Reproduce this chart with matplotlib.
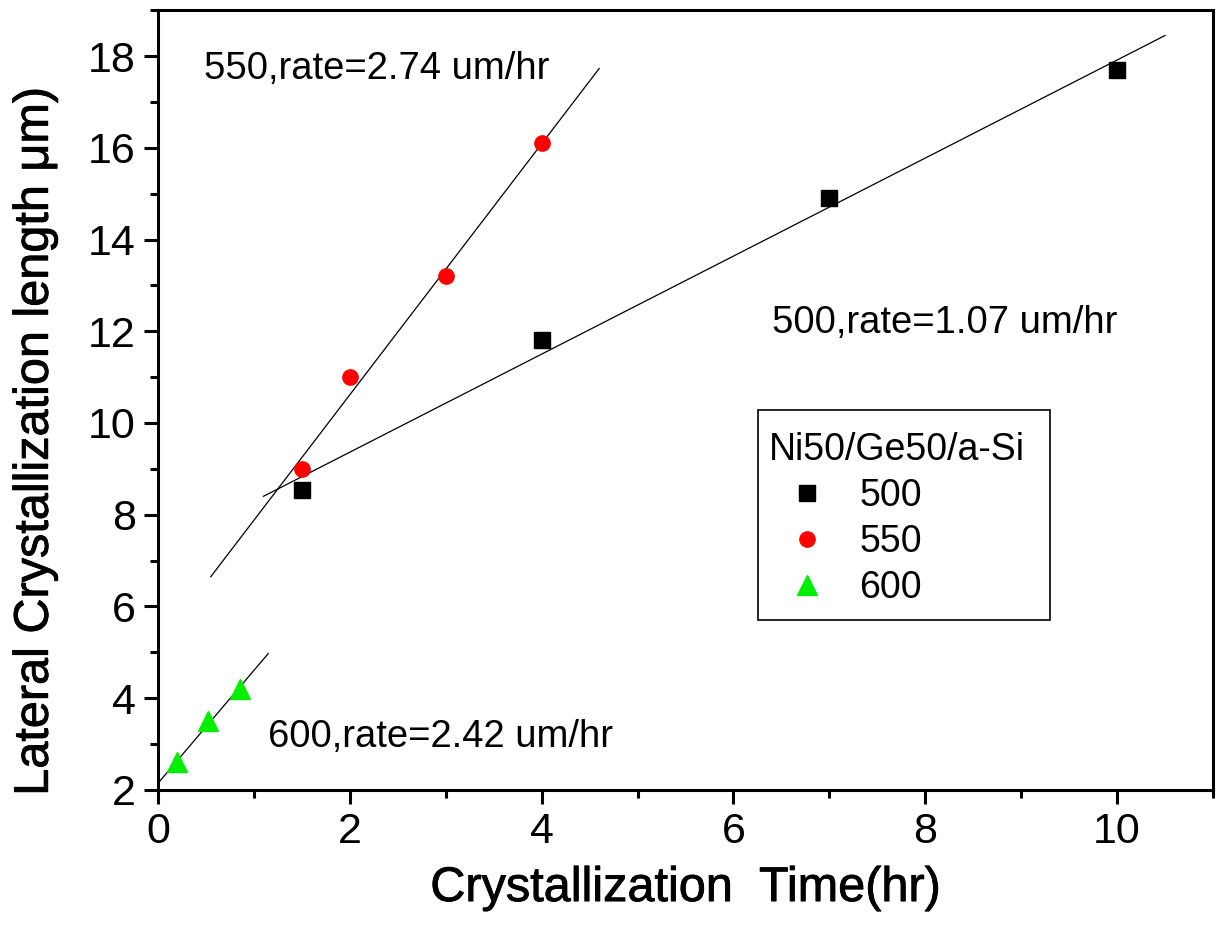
import numpy as np
import matplotlib.pyplot as plt
import matplotlib.patheffects as pe
from matplotlib.patches import Rectangle
from matplotlib.ticker import MultipleLocator

plt.rcParams['font.family'] = ['Liberation Sans', 'DejaVu Sans']

# measured points (time in hr, length in um)
t500 = [1.5, 4.0, 7.0, 10.0]
l500 = [8.55, 11.8, 14.9, 17.7]
t550 = [1.5, 2.0, 3.0, 4.0]
l550 = [9.0, 11.0, 13.2, 16.1]
t600 = [0.2, 0.52, 0.85]
l600 = [2.6, 3.5, 4.2]

# x-range over which each linear fit is drawn
fit500 = [1.1, 10.5]
fit550 = [0.55, 4.6]
fit600 = [0.0, 1.15]

labels = ['500', '550', '600']
notes = ['500,rate=1.07 um/hr', '550,rate=2.74 um/hr', '600,rate=2.42 um/hr']

fig = plt.figure(figsize=(12.22, 9.25), dpi=100)
ax = fig.add_axes([0.1293, 0.146, 0.8633, 0.843])

ax.plot(t500, l500, 's', color='black', ms=11, label=labels[0], zorder=3)
ax.plot(t550, l550, 'o', color='red', ms=11, label=labels[1], zorder=3)
ax.plot(t600, l600, '^', color='#00ee00', ms=14, label=labels[2], zorder=3)

# linear fits
for t, l, rng in [(t500, l500, fit500), (t550, l550, fit550), (t600, l600, fit600)]:
    k, b = np.polyfit(t, l, 1)
    xs = np.array(rng)
    ax.plot(xs, k * xs + b, color='black', lw=0.9, zorder=2)

ax.text(6.4, 12.19, notes[0], fontsize=27.5, va='center')
ax.text(0.48, 17.72, notes[1], fontsize=27.5, va='center')
ax.text(1.15, 3.15, notes[2], fontsize=27.5, va='center')

ax.set_xlim(0, 11)
ax.set_ylim(2, 19)
ax.xaxis.set_major_locator(MultipleLocator(2))
ax.xaxis.set_minor_locator(MultipleLocator(1))
ax.yaxis.set_major_locator(MultipleLocator(2))
ax.yaxis.set_minor_locator(MultipleLocator(1))
ax.tick_params(which='both', direction='out', width=2.2, labelsize=31, pad=6)
ax.tick_params(which='major', length=10)
ax.tick_params(which='minor', length=6)
for s in ax.spines.values():
    s.set_linewidth(2.2)

heavy = [pe.withStroke(linewidth=0.6, foreground='black')]
xl = ax.set_xlabel('Crystallization  Time(hr)', fontsize=35, labelpad=10)
yl = ax.set_ylabel('Lateral Crystallization length μm)', fontsize=35)
xl.set_path_effects(heavy)
yl.set_path_effects(heavy)
ax.yaxis.set_label_coords(-0.095, 0.447)

# legend box drawn separately so it can be wider than the text
ax.add_patch(Rectangle((0.5687, 0.218), 0.2768, 0.269, transform=ax.transAxes,
                       fill=False, edgecolor='black', lw=1.2, zorder=4))
leg = ax.legend(title='Ni50/Ge50/a-Si', loc='upper left', bbox_to_anchor=(0.5687, 0.474),
                borderaxespad=0, fontsize=27, title_fontsize=27, frameon=False,
                handlelength=2.0, handletextpad=0.4, borderpad=0.3, labelspacing=0.27)
leg._legend_box.align = 'left'

fig.savefig('out.png', dpi=100)
